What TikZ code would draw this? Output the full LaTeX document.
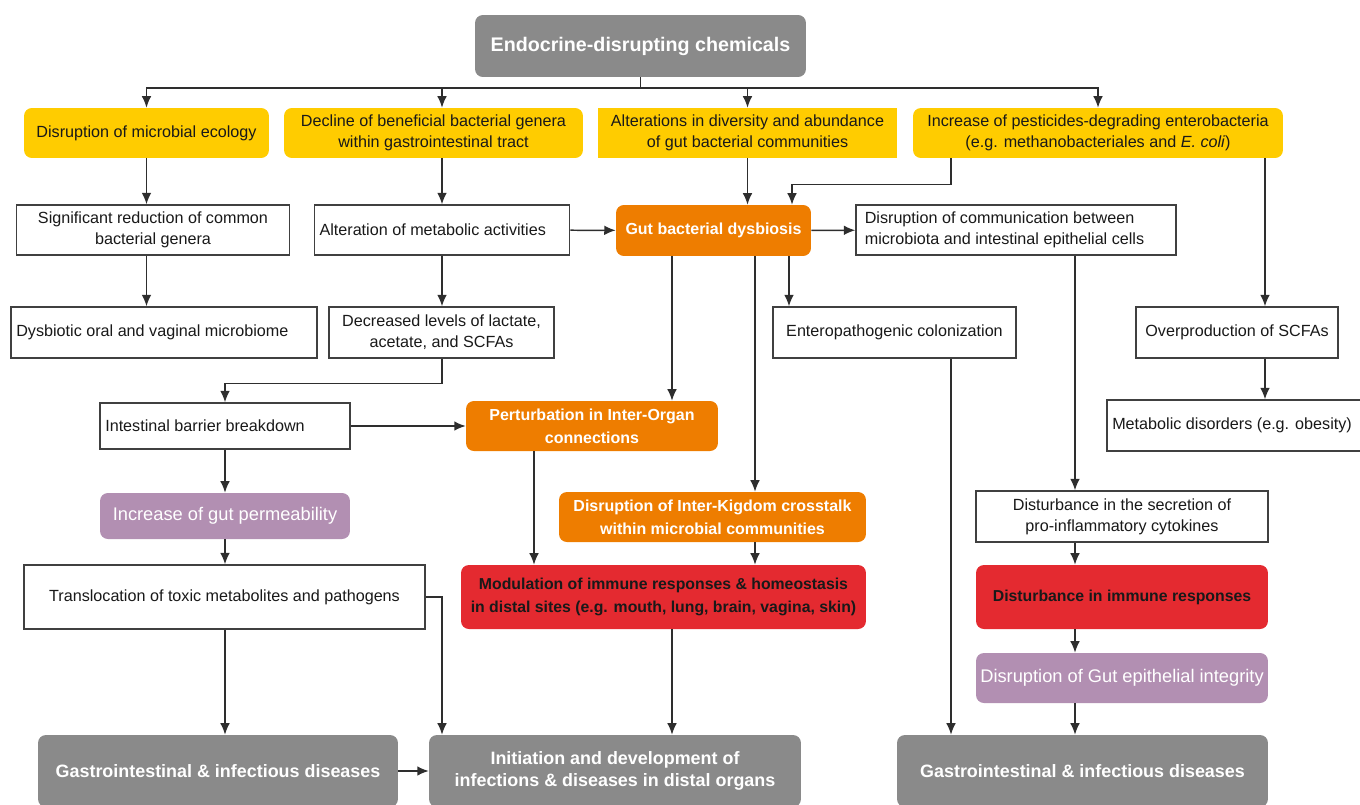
\documentclass[tikz,border=0pt]{standalone}
\usepackage{fontspec}
\setmainfont{Liberation Sans}
\usepackage{xcolor}
\usepackage{tikz}
\usetikzlibrary{arrows.meta,calc}

\definecolor{edcgray}{HTML}{8A8A8A}
\definecolor{causeyellow}{HTML}{FFCC00}
\definecolor{dysorange}{HTML}{EE7D00}
\definecolor{immunered}{HTML}{E42A30}
\definecolor{permpurple}{HTML}{B28FB2}
\definecolor{linegray}{HTML}{2E2E2E}

\begin{document}
\begin{tikzpicture}[
    x=0.02cm, y=-0.02cm,
    base/.style={rectangle, inner sep=3pt, align=center, text=black!90, font=\fontsize{9.2}{11.9}\selectfont},
    effect/.style={base, draw=black!75, line width=0.8pt, fill=white},
    cause/.style={base, fill=causeyellow, rounded corners=4.5pt},
    dys/.style={base, fill=dysorange, rounded corners=4.5pt, text=white, font=\fontsize{9.1}{13}\selectfont\bfseries},
    immune/.style={base, fill=immunered, rounded corners=4.5pt, text=black!90, font=\fontsize{9}{13}\selectfont\bfseries},
    perm/.style={base, fill=permpurple, rounded corners=4.5pt, text=white, font=\fontsize{10.4}{12.5}\selectfont},
    disease/.style={base, fill=edcgray, rounded corners=4.5pt, text=white, font=\fontsize{10.2}{12.5}\selectfont\bfseries},
    link/.style={line width=0.85pt, draw=linegray},
    arrow/.style={link, -{Latex[length=6.5pt,width=5.5pt]}}
]
\useasboundingbox (0,0) rectangle (1360,805);

\node[disease, minimum width=6.62cm, minimum height=1.24cm, font=\fontsize{11.2}{13}\selectfont\bfseries] (edc) at (640.5,46) {Endocrine-disrupting chemicals};

\node[cause, minimum width=4.9cm, minimum height=1cm] (y1) at (146.5,133) {Disruption of microbial ecology};
\node[cause, minimum width=5.98cm, minimum height=1cm] (y2) at (433.5,133) {Decline of beneficial bacterial genera\\within gastrointestinal tract};
\node[cause, sharp corners, minimum width=5.98cm, minimum height=1cm] (y3) at (747.5,133) {Alterations in diversity and abundance\\of gut bacterial communities};
\node[cause, minimum width=7.4cm, minimum height=1cm] (y4) at (1098,133) {Increase of pesticides-degrading enterobacteria\\(e.g. methanobacteriales and \textit{E. coli})};

\node[effect, minimum width=5.46cm, minimum height=1cm] (w1) at (153,230) {Significant reduction of common\\bacterial genera};
\node[effect, align=flush left, text width=4.9cm, minimum height=1cm] (w2) at (442,230) {Alteration of metabolic activities};
\node[dys, minimum width=3.9cm, minimum height=1.02cm] (o1) at (713.5,230.5) {Gut bacterial dysbiosis};
\node[effect, align=flush left, text width=6.05cm, minimum height=1cm, inner xsep=5pt] (w3) at (1016,230) {Disruption of communication between\\microbiota and intestinal epithelial cells};

\node[effect, align=flush left, text width=5.91cm, minimum height=1.02cm] (w4) at (164,332.5) {Dysbiotic oral and vaginal microbiome};
\node[effect, minimum width=4.5cm, minimum height=1.02cm] (w5) at (441.5,332.5) {Decreased levels of lactate,\\acetate, and SCFAs};
\node[effect, minimum width=4.86cm, minimum height=1.02cm] (w7) at (894.5,332.5) {Enteropathogenic colonization};
\node[effect, minimum width=4.04cm, minimum height=1.02cm] (w8) at (1237,332.5) {Overproduction of SCFAs};

\node[effect, align=flush left, text width=4.79cm, minimum height=0.92cm] (w6) at (225,426) {Intestinal barrier breakdown};
\node[dys, minimum width=5.04cm, minimum height=1cm] (o2) at (592,426) {Perturbation in Inter-Organ\\connections};
\node[effect, align=flush left, text width=4.97cm, minimum height=1.02cm] (w9) at (1236.5,425.5) {Metabolic disorders (e.g. obesity)};

\node[perm, minimum width=5cm, minimum height=0.92cm] (p1) at (225,516) {Increase of gut permeability};
\node[dys, minimum width=6.14cm, minimum height=1cm] (o3) at (712.5,517) {Disruption of Inter-Kigdom crosstalk\\within microbial communities};
\node[effect, minimum width=5.84cm, minimum height=1.02cm] (w10) at (1122,516.5) {Disturbance in the secretion of\\pro-inflammatory cytokines};

\node[effect, minimum width=8.02cm, minimum height=1.28cm] (w11) at (224.5,597) {Translocation of toxic metabolites and pathogens};
\node[immune, minimum width=8.1cm, minimum height=1.28cm] (r1) at (663.5,597) {Modulation of immune responses \& homeostasis\\in distal sites (e.g. mouth, lung, brain, vagina, skin)};
\node[immune, minimum width=5.84cm, minimum height=1.28cm] (r2) at (1122,597) {Disturbance in immune responses};
\node[perm, minimum width=5.84cm, minimum height=1cm, inner xsep=1pt] (p2) at (1122,678) {Disruption of Gut epithelial integrity};

\node[disease, minimum width=7.2cm, minimum height=1.44cm] (g1) at (218,771) {Gastrointestinal \& infectious diseases};
\node[disease, minimum width=7.44cm, minimum height=1.44cm] (g2) at (615,771) {Initiation and development of\\infections \& diseases in distal organs};
\node[disease, minimum width=7.42cm, minimum height=1.44cm] (g3) at (1082.5,771) {Gastrointestinal \& infectious diseases};

\coordinate (bus) at (640.5,88);
\draw[link] (edc.south) -- (bus);
\foreach \n in {y1,y3,y4}
    \draw[arrow] (bus) -| (\n);
\draw[arrow] (bus) -| (y2.north -| w2);

\draw[arrow] (y1.south) -- (y1.south |- w1.north);
\draw[arrow] (w2 |- y2.south) -- (w2.north);
\draw[arrow] (y3.south) -- (y3.south |- o1.north);
\draw[arrow] (y4.south -| 951,0) -- ++(0,26) -| (o1.north -| 792,0);
\draw[arrow] (w2) -- (o1);
\draw[arrow] (o1) -- (w3);
\draw[arrow] (y1 |- w1.south) -- (y1 |- w4.north);
\draw[arrow] (w2.south) -- (w2 |- w5.north);
\draw[arrow] (w5.south -| w2) -- ++(0,25) -| (w6.north);
\draw[arrow] (w6) -- (o2);
\draw[arrow] (w6) -- (p1);
\draw[arrow] (p1.south) -- (p1 |- w11.north);
\draw[arrow] (p1 |- w11.south) -- (p1 |- g1.north);
\draw[arrow] (w11.east) -| (w2 |- g2.north);
\draw[arrow] (g1) -- (g2);

\foreach \x/\a/\b in {672/o1/o2, 755/o1/o3, 789/o1/w7, 534/o2/r1, 755/o3/r1, 672/r1/g2, 951/w7/g3,
    1265/y4/w8, 1265/w8/w9, 1075/w3/w10, 1075/w10/r2, 1075/r2/p2, 1075/p2/g3}
    \draw[arrow] (\a.south -| \x,0) -- (\b.north -| \x,0);
\end{tikzpicture}
\end{document}
